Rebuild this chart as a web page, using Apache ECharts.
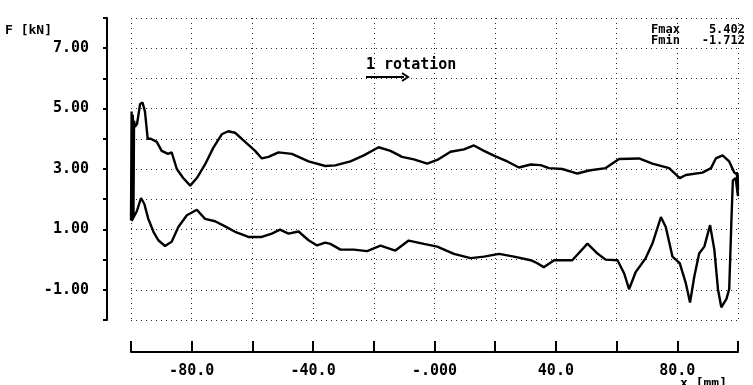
<!DOCTYPE html>
<html><head><meta charset="utf-8">
<script src="https://cdn.jsdelivr.net/npm/echarts@6/dist/echarts.min.js"></script>
<style>html,body{margin:0;padding:0;background:#fff}#c{width:753px;height:385px}</style>
</head><body><div id="c"></div>
<script>
// Upper branch (left to right, incl. left-end oscillation)
const upperX = [-100, -99.8, -99.6, -99.4, -99.2, -99.0, -98.7, -98.0, -97.0, -96.2, -95.4, -94.8, -94.5, -93.5, -91.5, -89.9, -87.8, -86.6, -84.9, -82.8, -80.5, -78.3, -75.6, -72.9, -70.1, -68, -65.7, -62.4, -59.1, -56.9, -54.7, -51.4, -47, -41.5, -36, -32.7, -27.7, -23.3, -18.4, -14.5, -10.7, -6.8, -2.4, 0.9, 5.3, 9.7, 13, 16.3, 20.1, 24, 27.8, 31.7, 35, 37.7, 42.1, 47.1, 50.9, 56.4, 60.8, 67.4, 71.8, 77.3, 80.8, 82.8, 88.3, 91.1, 92.7, 94.9, 97.1, 98.8, 99.9];
const upperY = [1.3, 4.9, 1.6, 4.8, 1.4, 4.6, 4.4, 4.5, 5.15, 5.2, 4.9, 4.3, 4.0, 4.0, 3.9, 3.6, 3.5, 3.55, 3.0, 2.7, 2.45, 2.7, 3.15, 3.7, 4.15, 4.25, 4.2, 3.9, 3.6, 3.35, 3.4, 3.55, 3.5, 3.25, 3.1, 3.12, 3.25, 3.45, 3.72, 3.6, 3.4, 3.32, 3.18, 3.3, 3.57, 3.65, 3.78, 3.6, 3.42, 3.25, 3.05, 3.15, 3.13, 3.03, 3.0, 2.85, 2.95, 3.03, 3.33, 3.35, 3.18, 3.03, 2.7, 2.8, 2.88, 3.03, 3.35, 3.45, 3.25, 2.88, 2.8];
// Right-end turnaround
const rightX = [100, 99.6, 100, 99.2, 98.3, 97.8, 97.1, 96.2];
const rightY = [2.3, 2.9, 2.1, 2.7, 2.62, 1.2, -0.98, -1.3];
// Lower branch (right to left)
const lowerX = [94.5, 93.4, 92.2, 90.8, 88.9, 87.2, 85.6, 84.2, 82.8, 80.8, 78.4, 76.2, 74.6, 71.8, 69.6, 66.3, 64.1, 62.5, 60.3, 56.4, 53.7, 50.4, 45.4, 39.4, 36, 33.3, 31.7, 26.2, 21.3, 16.3, 11.9, 6.4, 0.9, -3.5, -8.5, -12.9, -17.8, -22.2, -26.6, -31, -34.3, -36, -38.7, -41.5, -44.8, -48.1, -50.9, -53.6, -56.9, -61.3, -65.7, -69, -72.3, -75.6, -78.3, -81.6, -84.4, -86.6, -88.8, -91, -92.6, -94.3, -95.6, -96.7, -98.1, -99.8];
const lowerY = [-1.58, -0.98, 0.33, 1.14, 0.43, 0.2, -0.56, -1.42, -0.78, -0.12, 0.1, 1.08, 1.41, 0.53, 0.05, -0.41, -0.98, -0.46, -0.02, 0.0, 0.2, 0.53, -0.02, -0.02, -0.25, -0.09, -0.02, 0.1, 0.19, 0.1, 0.05, 0.19, 0.43, 0.52, 0.63, 0.3, 0.46, 0.28, 0.33, 0.33, 0.52, 0.56, 0.47, 0.64, 0.93, 0.86, 0.99, 0.86, 0.75, 0.75, 0.92, 1.1, 1.27, 1.35, 1.65, 1.47, 1.08, 0.59, 0.45, 0.64, 0.92, 1.35, 1.84, 2.04, 1.6, 1.28];

const yLabelValues = [7, 5, 3, 1, -1];
const xLabelMap = { '-80': '-80.0', '-40': '-40.0', '0': '-.000', '40': '40.0', '80': '80.0' };
const yTitle = 'F [kN]';
const xTitle = 'x [mm]';
const annotation = '1 rotation';
const statLines = ['Fmax    5.402', 'Fmin   -1.712'];

const loop = [];
upperX.forEach((x, i) => loop.push([x, upperY[i]]));
rightX.forEach((x, i) => loop.push([x, rightY[i]]));
lowerX.forEach((x, i) => loop.push([x, lowerY[i]]));

const FONT = 'DejaVu Sans Mono';
const chart = echarts.init(document.getElementById('c'));
chart.setOption({
  animation: false,
  backgroundColor: '#fff',
  grid: { left: 131, right: 15, top: 18, bottom: 65, containLabel: false },
  xAxis: {
    type: 'value', min: -100, max: 100, interval: 20, position: 'bottom', offset: 32,
    axisLine: { show: true, onZero: false, lineStyle: { color: '#000', width: 2 } },
    axisTick: { show: true, inside: true, length: 11, lineStyle: { color: '#000', width: 2 } },
    axisLabel: {
      margin: 12, color: '#000', fontFamily: FONT, fontWeight: 'bold', fontSize: 15,
      formatter: v => xLabelMap[String(Math.round(v))] || ''
    },
    splitLine: { show: true, lineStyle: { color: '#222', type: [1, 4], width: 1 } }
  },
  yAxis: {
    type: 'value', min: -2, max: 8, interval: 1, offset: 24,
    axisLine: { show: true, onZero: false, lineStyle: { color: '#000', width: 2 } },
    axisTick: { show: true, length: 4, lineStyle: { color: '#000', width: 2 } },
    axisLabel: {
      margin: 18, color: '#000', fontFamily: FONT, fontWeight: 'bold', fontSize: 15,
      formatter: v => yLabelValues.includes(Math.round(v)) ? v.toFixed(2) : ''
    },
    splitLine: { show: true, lineStyle: { color: '#222', type: [1, 4], width: 1 } }
  },
  series: [{
    type: 'line', data: loop, showSymbol: false, smooth: false,
    lineStyle: { color: '#000', width: 2.4 }, z: 5
  }],
  graphic: [
    { type: 'text', left: 5, top: 24, style: { text: yTitle, fill: '#000', font: 'bold 13px "DejaVu Sans Mono"' } },
    { type: 'text', left: 680, top: 377, style: { text: xTitle, fill: '#000', font: 'bold 13px "DejaVu Sans Mono"' } },
    { type: 'text', left: 366, top: 58, style: { text: annotation, fill: '#000', font: 'bold 15px "DejaVu Sans Mono"' } },
    { type: 'polyline', shape: { points: [[366, 77], [404, 77]] }, style: { stroke: '#000', lineWidth: 2 } },
    { type: 'polyline', shape: { points: [[402, 73], [408, 77], [402, 81]] }, style: { stroke: '#000', lineWidth: 2, fill: null } },
    { type: 'text', right: 8, top: 24, style: { text: statLines[0], fill: '#000', font: 'bold 12px "DejaVu Sans Mono"' } },
    { type: 'text', right: 8, top: 35, style: { text: statLines[1], fill: '#000', font: 'bold 12px "DejaVu Sans Mono"' } }
  ]
});
</script></body></html>
